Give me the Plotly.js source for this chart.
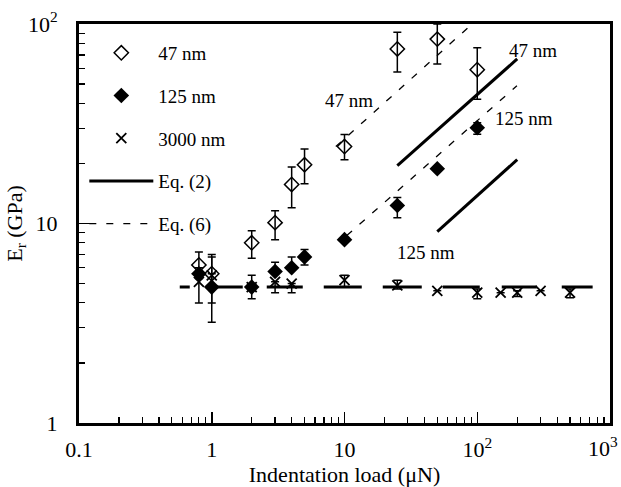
<!DOCTYPE html>
<html>
<head>
<meta charset="utf-8">
<script src="https://cdn.plot.ly/plotly-3.0.1.min.js"></script>
<style>html,body{margin:0;padding:0;background:#fff;}#chart{width:621px;height:487px;}</style>
</head>
<body>
<div id="chart"></div>
<script>
// ---- data ----
const load47 = [0.8, 1, 2, 3, 4, 5, 10, 25, 50, 100];
const er47 = [6.2, 5.6, 8.0, 10.1, 15.7, 19.7, 24.3, 75, 84, 59];
const er47Top = [7.2, null, 9.2, 11.6, 19.2, 23.6, 27.9, 91, 100, 76];
const er47Bot = [5.3, null, 6.7, 8.3, 12.0, 15.8, 20.9, 57.5, 63, 42];

const load125 = [0.8, 1, 2, 3, 4, 5, 10, 25, 50, 100];
const er125 = [5.6, 4.8, 4.8, 5.75, 6.0, 6.8, 8.3, 12.3, 18.8, 30.2];
const er125Top = [null, 6.8, 5.5, 6.4, 6.8, 7.4, null, 13.5, null, 32];
const er125Bot = [null, 3.2, 4.2, null, null, 6.2, null, 10.7, null, 28];

const load3000 = [0.8, 1, 2, 3, 4, 10, 25, 50, 100, 150, 200, 300, 500];
const er3000 = [5.1, 5.5, 4.8, 5.1, 5.0, 5.2, 4.9, 4.6, 4.5, 4.5, 4.5, 4.6, 4.5];
const er3000Top = [6.0, 7.0, null, null, null, 5.5, 5.2, null, 4.7, null, 4.6, null, 4.7];
const er3000Bot = [4.0, 4.0, null, 4.5, 4.5, 4.8, 4.7, null, 4.2, null, 4.3, null, 4.25];

const bulkX = [0.574, 740];
const bulkY = [4.8, 4.8];

const eq2x47 = [25, 200];
const eq2y47 = [19.5, 66.8];
const eq2x125 = [50, 200];
const eq2y125 = [9.1, 20.9];
const eq6x47 = [8.6, 88];
const eq6y47 = [24.3, 97.7];
const eq6x125 = [10.4, 199];
const eq6y125 = [8.7, 49];

const xTickVals = [0.1, 1, 10, 100, 1000];
const xTickText = ['0.1', '1', '10', '10<sup>2</sup>', ''];
const lastXTick = '10<sup>3</sup>';
const yTickVals = [1, 10, 100];
const yTickText = ['1', '10', '10<sup>2</sup>'];

const labels = [
  {text: '47 nm', x: 10.8, y: 41.2},
  {text: '47 nm', x: 262, y: 73.3},
  {text: '125 nm', x: 224, y: 33.5},
  {text: '125 nm', x: 40.9, y: 7.16}
];

// ---- helpers ----
function plus(y, top) { return y.map((v, i) => top[i] == null ? 0 : top[i] - v); }
function minus(y, bot) { return y.map((v, i) => bot[i] == null ? 0 : v - bot[i]); }

const FONT = 'Liberation Serif';
const errStyle = {thickness: 1.5, width: 4, color: '#000'};

const traces = [
  {x: bulkX, y: bulkY, mode: 'lines', showlegend: false,
   line: {color: '#000', width: 3, dash: '10px,21px,32px,24px,36px,21px,38px,21px,39px,21px,37px,22px,35px,25px,31px,40px'}},
  {x: eq2x47, y: eq2y47, mode: 'lines', name: 'Eq. (2)', legendrank: 4, legendgroup: 'e2',
   line: {color: '#000', width: 3}},
  {x: eq2x125, y: eq2y125, mode: 'lines', showlegend: false, legendgroup: 'e2',
   line: {color: '#000', width: 3}},
  {x: eq6x47, y: eq6y47, mode: 'lines', name: 'Eq. (6)', legendrank: 5, legendgroup: 'e6',
   line: {color: '#000', width: 1.3, dash: '7px,10px'}},
  {x: eq6x125, y: eq6y125, mode: 'lines', showlegend: false, legendgroup: 'e6',
   line: {color: '#000', width: 1.3, dash: '7px,10px'}},
  {x: load3000, y: er3000, mode: 'markers', name: '3000 nm', legendrank: 3, legendgroup: 'c',
   marker: {symbol: 'x-thin-open', size: 10, color: '#000', line: {width: 1.8, color: '#000'}},
   error_y: Object.assign({type: 'data', symmetric: false, array: plus(er3000, er3000Top), arrayminus: minus(er3000, er3000Bot)}, errStyle)},
  {x: load125, y: er125, mode: 'markers', name: '125 nm', legendrank: 2, legendgroup: 'b',
   marker: {symbol: 'diamond', size: 12, color: '#000', line: {width: 0}},
   error_y: Object.assign({type: 'data', symmetric: false, array: plus(er125, er125Top), arrayminus: minus(er125, er125Bot)}, errStyle)},
  {x: load47, y: er47, mode: 'markers', name: '47 nm', legendrank: 1, legendgroup: 'a',
   marker: {symbol: 'diamond-open', size: 11, color: '#000', line: {width: 1.5, color: '#000'}},
   error_y: Object.assign({type: 'data', symmetric: false, array: plus(er47, er47Top), arrayminus: minus(er47, er47Bot)}, errStyle)}
];

const annots = labels.map(l => ({text: l.text, x: Math.log10(l.x), y: Math.log10(l.y), xref: 'x', yref: 'y',
    showarrow: false, font: {family: FONT, size: 19, color: '#000'}}));
annots.push({text: lastXTick, xref: 'paper', yref: 'paper', x: 1.0188, y: -0.06,
    xanchor: 'right', yanchor: 'middle', showarrow: false, font: {family: FONT, size: 22, color: '#000'}});

const layout = {
  width: 621, height: 487,
  margin: {l: 79, r: 11, t: 24, b: 64},
  paper_bgcolor: '#fff', plot_bgcolor: '#fff',
  font: {family: FONT, color: '#000', size: 22},
  showlegend: true,
  legend: {x: 0.01, y: 0.975, xanchor: 'left', yanchor: 'top', bgcolor: 'rgba(0,0,0,0)',
           font: {family: FONT, size: 19, color: '#000'}, itemwidth: 64,
           traceorder: 'grouped', tracegroupgap: 15},
  xaxis: {type: 'log', range: [-1.00001, 3.00001], tickmode: 'array', tickvals: xTickVals, ticktext: xTickText,
          ticks: 'inside', ticklen: 11, tickwidth: 1.5, tickcolor: '#000',
          showline: true, linewidth: 3, linecolor: '#000', mirror: true, showgrid: false, zeroline: false,
          ticklabelstandoff: 5,
          minor: {ticks: 'inside', ticklen: 6, tickwidth: 1.2, tickcolor: '#000', dtick: 'D1', showgrid: false},
          tickfont: {family: FONT, size: 22, color: '#000'},
          title: {text: 'Indentation load (μN)', font: {family: FONT, size: 22, color: '#000'}, standoff: 4}},
  yaxis: {type: 'log', range: [-0.00001, 2.00001], tickmode: 'array', tickvals: yTickVals, ticktext: yTickText,
          ticks: 'inside', ticklen: 11, tickwidth: 1.5, tickcolor: '#000', ticklabeloverflow: 'allow',
          showline: true, linewidth: 3, linecolor: '#000', mirror: true, showgrid: false, zeroline: false,
          ticklabelstandoff: 14,
          minor: {ticks: 'inside', ticklen: 6, tickwidth: 1.2, tickcolor: '#000', dtick: 'D1', showgrid: false},
          tickfont: {family: FONT, size: 22, color: '#000'},
          title: {text: 'E<sub>r</sub> (GPa)', font: {family: FONT, size: 22, color: '#000'}, standoff: 0}},
  annotations: annots
};

Plotly.newPlot('chart', traces, layout, {displayModeBar: false, staticPlot: true});
</script>
</body>
</html>
